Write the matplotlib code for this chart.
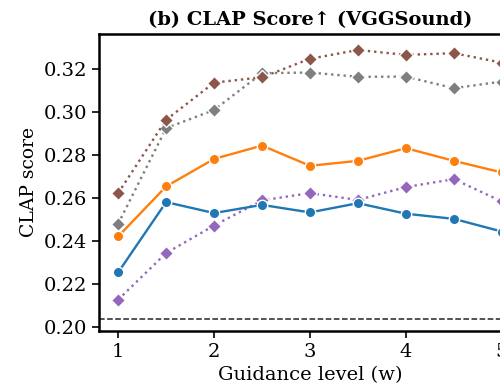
import matplotlib
matplotlib.use("Agg")
import matplotlib.pyplot as plt

plt.rcParams['font.family'] = ['DejaVu Serif']

guidance = [1.0, 1.5, 2.0, 2.5, 3.0, 3.5, 4.0, 4.5, 5.0]

blue_scores = [0.2253, 0.2580, 0.2529, 0.2567, 0.2532, 0.2575, 0.2526, 0.2502, 0.2443]
orange_scores = [0.2420, 0.2653, 0.2781, 0.2843, 0.2749, 0.2772, 0.2831, 0.2772, 0.2718]
purple_scores = [0.2126, 0.2343, 0.2471, 0.2588, 0.2622, 0.2590, 0.2650, 0.2687, 0.2583]
gray_scores = [0.2479, 0.2924, 0.3009, 0.3180, 0.3183, 0.3163, 0.3164, 0.3110, 0.3141]
brown_scores = [0.2622, 0.2963, 0.3136, 0.3161, 0.3247, 0.3288, 0.3265, 0.3273, 0.3229]

baseline = 0.2037
yticks = [0.20, 0.22, 0.24, 0.26, 0.28, 0.30, 0.32]
xticks = [1, 2, 3, 4, 5]

fig = plt.figure(figsize=(5.0, 3.89), dpi=100)
ax = fig.add_axes([0.198, 0.149, 0.844, 0.764])

# dotted diamond series first, solid circle series drawn on top
series = [
    (purple_scores, 'tab:purple', 'D', ':'),
    (gray_scores, 'tab:gray', 'D', ':'),
    (brown_scores, 'tab:brown', 'D', ':'),
    (blue_scores, 'tab:blue', 'o', '-'),
    (orange_scores, 'tab:orange', 'o', '-'),
]
for vals, color, marker, ls in series:
    ax.plot(guidance, vals, color=color, marker=marker, linestyle=ls,
            linewidth=1.7, markersize=7.5 if marker == 'o' else 7.5,
            markeredgecolor='white', markeredgewidth=1.0)

ax.axhline(baseline, color='#222222', linestyle='--', linewidth=1.1)

ax.set_xlim(0.8, 5.2)
ax.set_ylim(0.198, 0.3363)
ax.set_xticks(xticks)
ax.set_xticklabels([str(t) for t in xticks])
ax.set_yticks(yticks)
ax.set_yticklabels([f"{t:.2f}" for t in yticks])
ax.tick_params(labelsize=14, length=5, width=1.2)

for sp in ax.spines.values():
    sp.set_linewidth(1.8)

ax.set_xlabel('Guidance level (w)', fontsize=14)
ax.set_ylabel('CLAP score', fontsize=13.5)
ax.set_title('(b) CLAP Score↑ (VGGSound)', fontsize=14, fontweight='bold')

fig.savefig('out.png', dpi=100)
